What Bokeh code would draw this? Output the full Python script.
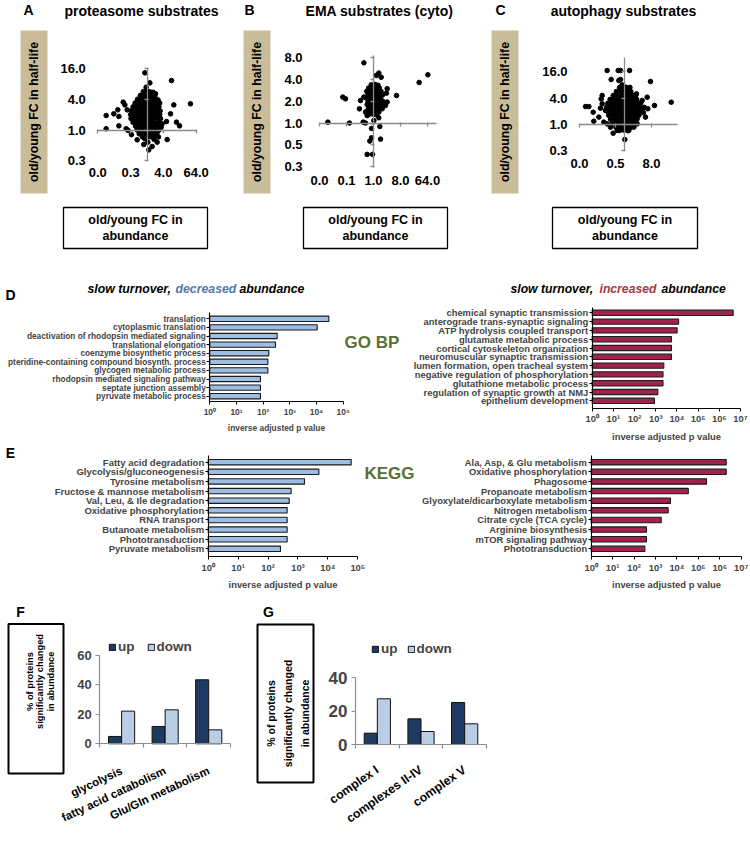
import math
from bokeh.plotting import figure
from bokeh.models import (Range1d, LogScale, LinearAxis, LogAxis, FixedTicker,
                          CustomJSTickFormatter, ColumnDataSource, Legend, LegendItem)
from bokeh.core.properties import value
from bokeh.transform import dodge
from bokeh.embed import file_html
from bokeh.resources import INLINE

FONT = "Liberation Sans"

# ===================== DATA =====================
# --- A: proteasome substrates (log2 old/young fold change) ---
a_log2_fc_abundance = [
    -0.26, 2.99, 0.35, -0.10, 5.30, 3.27, 2.87, 2.38, 3.60, 3.96, -4.98, -4.98, -4.05, -3.43, -3.56,
    -2.90, -2.70, -2.42, -3.43, -2.54, -2.30, -1.20, -0.26, 0.10, 1.24, 2.46, 0.22, 0.63, -0.39, 1.85,
    1.73, 1.04, -1.90, 0.85, 1.40,
    -0.45, -0.05, 0.35, 0.75,
    -0.80, -0.35, 0.10, 0.50, 0.95,
    -1.15, -0.70, -0.25, 0.20, 0.60, 1.05, 1.35,
    -1.45, -1.00, -0.55, -0.10, 0.35, 0.80, 1.20, 1.55,
    -1.70, -1.25, -0.80, -0.35, 0.10, 0.55, 1.00, 1.45,
    -1.90, -1.45, -1.00, -0.55, -0.10, 0.30, 0.75, 1.20, 1.60,
    -2.00, -1.60, -1.15, -0.70, -0.25, 0.20, 0.65, 1.10, 1.55,
    -1.95, -1.50, -1.05, -0.60, -0.15, 0.30, 0.75, 1.20, 1.65,
    -1.70, -1.25, -0.80, -0.35, 0.10, 0.55, 1.00, 1.45,
    -1.40, -0.95, -0.50, -0.05, 0.40, 0.85, 1.30,
    -1.20, -0.75, -0.30, 0.15, 0.60, 1.05, 1.40,
    -0.95, -0.50, -0.05, 0.40, 0.85, 1.20,
    -0.55, -0.10, 0.35, 0.80]
a_log2_fc_halflife = [
    3.71, 3.21, 3.06, 2.78, 1.70, 1.63, 1.05, 0.55, 0.51, 0.27, 0.94, 0.08, 1.05, 0.88, 1.31,
    1.81, 1.63, 1.31, 0.27, 0.08, -0.03, -0.64, -0.57, -0.79, -0.79, -0.62, -1.29, -1.07, -0.94, 0.40,
    0.18, 2.35, -0.30, -0.60, -0.45,
    2.50, 2.55, 2.48, 2.45,
    2.25, 2.28, 2.22, 2.26, 2.20,
    2.00, 2.03, 1.98, 2.02, 1.97, 2.00, 1.95,
    1.75, 1.78, 1.72, 1.76, 1.74, 1.77, 1.72, 1.75,
    1.50, 1.52, 1.48, 1.51, 1.49, 1.52, 1.47, 1.50,
    1.25, 1.23, 1.27, 1.24, 1.26, 1.22, 1.25, 1.28, 1.24,
    1.00, 1.02, 0.98, 1.01, 0.99, 1.03, 0.97, 1.00, 1.02,
    0.75, 0.73, 0.77, 0.74, 0.76, 0.72, 0.75, 0.78, 0.74,
    0.50, 0.52, 0.48, 0.51, 0.49, 0.53, 0.47, 0.50,
    0.25, 0.27, 0.23, 0.26, 0.24, 0.27, 0.22,
    0.00, 0.02, -0.02, 0.01, -0.01, 0.03, -0.03,
    -0.25, -0.23, -0.27, -0.24, -0.26, -0.22,
    -0.45, -0.47, -0.44, -0.46]
a_x_ticks = [-6, -2, 2, 6]
a_x_tick_labels = ["0.0", "0.3", "4.0", "64.0"]
a_y_ticks = [-2, 0, 2, 4]
a_y_tick_labels = ["0.3", "1.0", "4.0", "16.0"]

# --- B: EMA substrates (cyto) ---
b_log2_fc_abundance = [
    -1.07, 6.04, 5.07, 0.59, 0.30, 0.85, 2.56, -3.41, -3.11, -5.07, -2.67, -1.15, -0.89, 0.04, 0.59,
    -0.22, 0.70, -0.22, 0.78, -0.41, -0.70, -0.11, -1.56, -1.44, -1.07, 1.52, 1.44, 1.52, -0.89, -0.70,
    1.33, 0.96, 0.59,
    -0.25, 0.15, 0.50,
    -0.55, -0.15, 0.25, 0.65,
    -0.75, -0.35, 0.05, 0.45, 0.85,
    -0.60, -0.20, 0.20, 0.60, 1.00,
    -0.80, -0.40, 0.00, 0.40, 0.80,
    -0.60, -0.20, 0.20, 0.60, 1.05,
    -0.70, -0.30, 0.10, 0.50, 0.90,
    -0.55, -0.15, 0.25, 0.65,
    -0.70, -0.30, 0.10, 0.45,
    -0.50, -0.10, 0.30]
b_log2_fc_halflife = [
    2.76, 2.21, 1.86, 2.29, 2.18, 2.10, 1.26, 1.19, 1.11, 0.04, 0.00, 0.04, 0.00, 0.11, 0.24,
    -0.25, -0.16, -0.68, -0.74, -0.83, -1.44, -1.44, 0.65, 1.03, 1.19, 0.96, 1.37, 1.57, 0.50, 0.34,
    0.80, 0.65, 0.50,
    1.75, 1.77, 1.73,
    1.60, 1.62, 1.58, 1.61,
    1.45, 1.47, 1.43, 1.46, 1.44,
    1.30, 1.32, 1.28, 1.31, 1.29,
    1.15, 1.17, 1.13, 1.16, 1.14,
    1.00, 1.02, 0.98, 1.01, 0.99,
    0.85, 0.87, 0.83, 0.86, 0.84,
    0.70, 0.72, 0.68, 0.71,
    0.55, 0.57, 0.53, 0.56,
    0.40, 0.42, 0.38]
b_x_ticks = [-6, -3, 0, 3, 6]
b_x_tick_labels = ["0.0", "0.1", "1.0", "8.0", "64.0"]
b_y_ticks = [-2, -1, 0, 1, 2, 3]
b_y_tick_labels = ["0.3", "0.5", "1.0", "2.0", "4.0", "8.0"]

# --- C: autophagy substrates ---
c_log2_fc_abundance = [
    -1.93, -0.70, -0.44, 0.56, -1.48, -0.63, 2.89, 5.19, 3.33, 2.59, 2.33, -4.33, -3.96, -3.48, -3.41,
    -2.48, -2.59, -1.26, 0.04, 1.96, 1.33, -2.48, -2.67, -2.11, -2.85, -2.30, -1.93, -1.56, -0.81, 0.48,
    1.04, 1.41, 2.52, -0.44, -0.26, 0.11, 2.10, 2.20,
    -0.55, -0.15, 0.25, 0.60,
    -0.90, -0.50, -0.10, 0.30, 0.70,
    -1.25, -0.85, -0.40, 0.00, 0.45, 0.85, 1.20,
    -1.60, -1.20, -0.75, -0.35, 0.10, 0.50, 0.90, 1.35,
    -1.85, -1.45, -1.00, -0.60, -0.15, 0.25, 0.70, 1.10, 1.50, 1.80,
    -2.00, -1.60, -1.20, -0.75, -0.35, 0.10, 0.50, 0.90, 1.35, 1.75,
    -1.90, -1.45, -1.05, -0.60, -0.20, 0.25, 0.65, 1.10, 1.50, 1.90,
    -1.75, -1.30, -0.90, -0.45, -0.05, 0.40, 0.80, 1.20, 1.60,
    -1.55, -1.10, -0.70, -0.25, 0.15, 0.55, 1.00, 1.40,
    -1.35, -0.90, -0.50, -0.05, 0.35, 0.80, 1.20,
    -0.95, -0.50, -0.10, 0.30, 0.70,
    -0.55, -0.10, 0.35]
c_log2_fc_halflife = [
    4.09, 4.09, 4.09, 4.09, 3.41, 3.33, 3.26, 1.69, 1.44, 1.19, 0.56, 1.36, 1.36, 0.93, 0.25,
    2.20, 1.94, -0.66, -1.14, 1.82, 2.32, 1.57, 1.24, 1.06, 0.56, 0.18, 0.05, -0.20, -0.45, -0.45,
    -0.20, 0.05, 2.07, 3.41, 3.00, 2.83, 0.90, 1.30,
    2.80, 2.83, 2.78, 2.81,
    2.50, 2.53, 2.48, 2.51, 2.49,
    2.20, 2.23, 2.18, 2.21, 2.19, 2.22, 2.18,
    1.90, 1.93, 1.88, 1.91, 1.89, 1.92, 1.88, 1.91,
    1.60, 1.63, 1.58, 1.61, 1.59, 1.62, 1.58, 1.61, 1.60, 1.62,
    1.30, 1.33, 1.28, 1.31, 1.29, 1.32, 1.28, 1.31, 1.30, 1.32,
    1.00, 1.03, 0.98, 1.01, 0.99, 1.02, 0.98, 1.01, 1.00, 1.02,
    0.70, 0.73, 0.68, 0.71, 0.69, 0.72, 0.68, 0.71, 0.70,
    0.40, 0.43, 0.38, 0.41, 0.39, 0.42, 0.38, 0.41,
    0.10, 0.13, 0.08, 0.11, 0.09, 0.12, 0.08,
    -0.20, -0.17, -0.22, -0.19, -0.21,
    -0.45, -0.42, -0.47]
c_x_ticks = [-5, -1, 3]
c_x_tick_labels = ["0.0", "0.5", "8.0"]
c_y_ticks = [-2, 0, 2, 4]
c_y_tick_labels = ["0.3", "1.0", "4.0", "16.0"]

# --- D: GO BP enrichment ---
d_dec_terms = ["translation", "cytoplasmic translation", "deactivation of rhodopsin mediated signaling",
               "translational elongation", "coenzyme biosynthetic process",
               "pteridine-containing compound biosynth. process", "glycogen metabolic process",
               "rhodopsin mediated signaling pathway", "septate junction assembly",
               "pyruvate metabolic process"]
d_dec_inv_padj = [29000, 10600, 335, 290, 163, 150, 150, 79, 79, 79]
d_inc_terms = ["chemical synaptic transmission", "anterograde trans-synaptic signaling",
               "ATP hydrolysis coupled transport", "glutamate metabolic process",
               "cortical cytoskeleton organization", "neuromuscular synaptic transmission",
               "lumen formation, open tracheal system", "negative regulation of phosphorylation",
               "glutathione metabolic process", "regulation of synaptic growth at NMJ",
               "epithelium development"]
d_inc_inv_padj = [4500000, 12000, 10200, 5500, 5500, 5500, 2400, 2200, 2200, 1250, 870]

# --- E: KEGG enrichment ---
e_dec_terms = ["Fatty acid degradation", "Glycolysis/gluconeogenesis", "Tyrosine metabolism",
               "Fructose & mannose metabolism", "Val, Leu, & Ile degradation",
               "Oxidative phosphorylation", "RNA transport", "Butanoate metabolism",
               "Phototransduction", "Pyruvate metabolism"]
e_dec_inv_padj = [60000, 5000, 1650, 590, 510, 435, 435, 435, 435, 260]
e_inc_terms = ["Ala, Asp, & Glu metabolism", "Oxidative phosphorylation", "Phagosome",
               "Propanoate metabolism", "Glyoxylate/dicarboxylate metabolism", "Nitrogen metabolism",
               "Citrate cycle (TCA cycle)", "Arginine biosynthesis", "mTOR signaling pathway",
               "Phototransduction"]
e_inc_inv_padj = [2000000, 2000000, 240000, 34000, 5000, 3900, 1850, 380, 380, 320]

log_ticks_5 = [1, 10, 100, 1000, 10000, 100000]
log_tick_labels_5 = ["10\u2070", "10\u00b9", "10\u00b2", "10\u00b3", "10\u2074", "10\u2075"]
log_ticks_7 = [1, 10, 100, 1000, 10000, 100000, 1000000, 10000000]
log_tick_labels_7 = ["10\u2070", "10\u00b9", "10\u00b2", "10\u00b3", "10\u2074", "10\u2075", "10\u2076", "10\u2077"]

# --- F / G: % of proteins significantly changed in abundance ---
f_categories = ["glycolysis", "fatty acid catabolism", "Glu/Gln metabolism"]
f_up = [5.0, 11.8, 43.5]
f_down = [22.2, 23.1, 9.5]
f_y_ticks = [0, 20, 40, 60]
f_y_tick_labels = ["0", "20", "40", "60"]
g_categories = ["complex I", "complexes II-IV", "complex V"]
g_up = [6.8, 15.4, 25.2]
g_down = [27.4, 7.8, 12.4]
g_y_ticks = [0, 20, 40]
g_y_tick_labels = ["0", "20", "40"]

# ===================== STYLE =====================
TAN = "#c9bc99"
GRAY = "#8c8c8c"
LIGHT_BLUE = "#9dbde2"
CRIMSON = "#a3214e"
NAVY = "#1f3a60"
PALE = "#b9cde5"
OLIVE = "#5b7035"
DEC_BLUE = "#4f7bb0"
INC_RED = "#a43a47"

# page pixel frame (the plot fills the page)
PX0, PX1, PY0, PY1 = 0, 750, 0, 845

p = figure(width=PX1 - PX0, height=PY1 - PY0, x_range=Range1d(PX0, PX1), y_range=Range1d(PY1, PY0),
           x_axis_type=None, y_axis_type=None, toolbar_location=None, output_backend="svg",
           min_border=0, outline_line_color=None, background_fill_color="white")

xr_d, yr_d, xs_d = {}, {}, {}


def lin_x(d_a, p_a, d_b, p_b):
    k = (d_b - d_a) / (p_b - p_a)
    return Range1d(start=d_a + (PX0 - p_a) * k, end=d_a + (PX1 - p_a) * k)


def lin_y(d_a, p_a, d_b, p_b):
    k = (d_b - d_a) / (p_b - p_a)
    return Range1d(start=d_a + (PY1 - p_a) * k, end=d_a + (PY0 - p_a) * k)


def log_x(d_a, p_a, d_b, p_b):
    la, lb = math.log10(d_a), math.log10(d_b)
    k = (lb - la) / (p_b - p_a)
    return Range1d(start=10 ** (la + (PX0 - p_a) * k), end=10 ** (la + (PX1 - p_a) * k))


def fmt(ticks, labels):
    return CustomJSTickFormatter(args=dict(tv=list(ticks), lb=list(labels)), code="""
        for (let i = 0; i < tv.length; i++) {
            if (Math.abs(tv[i] - tick) <= 1e-6 * Math.max(1, Math.abs(tv[i]))) { return lb[i]; }
        }
        return "";""")


def line_axis(cls, side, xname, yname, loc, bounds, ticks, color, width, tick_in, tick_out):
    ax = cls(x_range_name=xname, y_range_name=yname, fixed_location=loc, bounds=bounds,
             ticker=FixedTicker(ticks=list(ticks), minor_ticks=[]),
             formatter=fmt(ticks, [""] * len(ticks)),
             axis_line_color=color, axis_line_width=width,
             major_tick_line_color=color, major_tick_line_width=width,
             major_tick_in=tick_in, major_tick_out=tick_out,
             minor_tick_line_color=None, major_label_text_color=None,
             major_label_text_font_size="1px", major_label_standoff=0)
    p.add_layout(ax, side)
    return ax


def label_axis(cls, side, xname, yname, loc, ticks, labels, size, standoff, orientation="horizontal",
               style="bold"):
    ax = cls(x_range_name=xname, y_range_name=yname, fixed_location=loc,
             ticker=FixedTicker(ticks=list(ticks), minor_ticks=[]), formatter=fmt(ticks, labels),
             axis_line_color=None, major_tick_line_color=None, minor_tick_line_color=None,
             major_tick_in=0, major_tick_out=0, major_label_standoff=int(standoff),
             major_label_text_font=FONT, major_label_text_font_style=style,
             major_label_text_font_size=f"{size}px", major_label_text_color="black",
             major_label_orientation=orientation)
    p.add_layout(ax, side)
    return ax


def txt(x, y, s, size, color="black", style="bold", align="center", baseline="middle", angle=0.0,
        line_height=1.2):
    p.text(x=[x], y=[y], text=[s], text_font=value(FONT), text_font_size=f"{size}px",
           text_font_style=style, text_color=color, text_align=align, text_baseline=baseline,
           angle=angle, text_line_height=line_height)


def box(l, r, t, b, fill, line, lw):
    p.quad(left=[l], right=[r], top=[t], bottom=[b], fill_color=fill, line_color=line, line_width=lw)


# ===================== A, B, C scatter panels =====================
def scatter_panel(key, xs, ys, xmap, ymap, xbounds, ybounds, xticks, xlabels, yticks, ylabels,
                  frame_left, ylab_standoff, frame_bottom, xlab_standoff):
    xn, yn = key + "_x", key + "_y"
    xr_d[xn] = lin_x(*xmap)
    yr_d[yn] = lin_y(*ymap)
    line_axis(LinearAxis, "below", xn, yn, 0, xbounds, xticks, GRAY, 1.3, 1, 3)
    line_axis(LinearAxis, "left", xn, yn, 0, ybounds, yticks, GRAY, 1.3, 1, 3)
    p.scatter(x=xs, y=ys, size=4.6, color="black", x_range_name=xn, y_range_name=yn)
    label_axis(LinearAxis, "left", "default", yn, frame_left, yticks, ylabels, 13, ylab_standoff)
    label_axis(LinearAxis, "below", xn, "default", frame_bottom, xticks, xlabels, 13, xlab_standoff)


scatter_panel("a", a_log2_fc_abundance, a_log2_fc_halflife, (0, 146.5, 6, 195.7), (0, 129.5, 4, 67.9),
              (-6, 6), (-1.98, 4.06), a_x_ticks, a_x_tick_labels, a_y_ticks, a_y_tick_labels,
              97.3, 12, 160, 7)
scatter_panel("b", b_log2_fc_abundance, b_log2_fc_halflife, (0, 373, 6, 427), (0, 122.5, 3, 57.1),
              (-6, 7), (-2.04, 3.08), b_x_ticks, b_x_tick_labels, b_y_ticks, b_y_tick_labels,
              318, 16, 167, 8)
scatter_panel("c", c_log2_fc_abundance, c_log2_fc_halflife, (0, 624, 3, 651), (0, 124, 4, 71.2),
              (-5, 5.9), (-1.97, 5.1), c_x_ticks, c_x_tick_labels, c_y_ticks, c_y_tick_labels,
              579, 12, 150, 8)

for (letter, lx, tx, title, tan_l, lab_l, lab_r) in [
        ("A", 28, 141, "proteasome substrates", 20, 63, 207),
        ("B", 249, 379, "EMA substrates (cyto)", 243, 303, 447),
        ("C", 500, 623, "autophagy substrates", 491, 552, 697)]:
    txt(lx, 9, letter, 14)
    txt(tx, 10, title, 14)
    box(tan_l, tan_l + 27, 30, 193, TAN, None, 0)
    txt(tan_l + 13.5, 111.5, "old/young FC in half-life", 12.3, angle=math.pi / 2)
    box(lab_l, lab_r, 207, 248, "white", "black", 1.3)
    txt((lab_l + lab_r) / 2, 227.5, "old/young FC in\nabundance", 12.5, line_height=1.2)


# ===================== D, E bar panels =====================
def bar_panel(key, terms, vals, color, x0px, x1px, ticks, tlabels, idx0_px, step, top_px, xaxis_px,
              lab_size, tick_size, tick_standoff, axlab_standoff, bar_h):
    xn, yn = key + "_x", key + "_y"
    xr_d[xn] = log_x(1, x0px, ticks[-1], x1px)
    xs_d[xn] = LogScale()
    yr_d[yn] = lin_y(0, idx0_px, 1, idx0_px + step)
    idx = list(range(len(terms)))
    src = ColumnDataSource(dict(idx=idx, val=vals, term=terms))
    p.hbar(y="idx", left=1, right="val", height=bar_h, source=src, fill_color=color,
           line_color="#1b1b1b", line_width=1.1, x_range_name=xn, y_range_name=yn)
    yax = LinearAxis(x_range_name="default", y_range_name=yn, fixed_location=x0px,
                     bounds=((top_px - idx0_px) / step, (xaxis_px - idx0_px) / step),
                     ticker=FixedTicker(ticks=idx, minor_ticks=[]), formatter=fmt(idx, terms),
                     axis_line_color="black", axis_line_width=1.1, major_tick_line_color="black",
                     major_tick_line_width=1, major_tick_in=0, major_tick_out=3,
                     minor_tick_line_color=None, major_label_standoff=1,
                     major_label_text_font=FONT, major_label_text_font_style="bold",
                     major_label_text_font_size=f"{lab_size}px")
    p.add_layout(yax, "left")
    xax = LogAxis(x_range_name=xn, y_range_name="default", fixed_location=xaxis_px,
                  bounds=(ticks[0], ticks[-1]), ticker=FixedTicker(ticks=ticks, minor_ticks=[]),
                  formatter=fmt(ticks, tlabels),
                  axis_line_color="black", axis_line_width=1.1, major_tick_line_color="black",
                  major_tick_line_width=1, major_tick_in=0, major_tick_out=3,
                  minor_tick_line_color=None, major_label_standoff=int(tick_standoff),
                  major_label_text_font=FONT, major_label_text_font_style="bold",
                  major_label_text_font_size=f"{tick_size}px",
                  axis_label="inverse adjusted p value", axis_label_standoff=int(axlab_standoff),
                  axis_label_text_font=FONT, axis_label_text_font_style="bold",
                  axis_label_text_font_size=f"{tick_size}px")
    p.add_layout(xax, "below")


bar_panel("dd", d_dec_terms, d_dec_inv_padj, LIGHT_BLUE, 209.3, 342.7, log_ticks_5, log_tick_labels_5,
          318.3, 8.6, 312.3, 401, 8.3, 8.4, 2, 3, 0.62)
bar_panel("di", d_inc_terms, d_inc_inv_padj, CRIMSON, 591.7, 740, log_ticks_7, log_tick_labels_7,
          312.3, 8.8, 306.7, 407.7, 9.4, 9.4, 2, 3, 0.6)
bar_panel("ed", e_dec_terms, e_dec_inv_padj, LIGHT_BLUE, 207.7, 357.3, log_ticks_5, log_tick_labels_5,
          461.7, 9.63, 455, 556, 9.5, 9.4, 2, 3, 0.56)
bar_panel("ei", e_inc_terms, e_inc_inv_padj, CRIMSON, 590.7, 740.7, log_ticks_7, log_tick_labels_7,
          461.7, 9.63, 455, 556, 9.4, 9.4, 2, 3, 0.56)

txt(10, 294, "D", 14)
txt(10, 452, "E", 14)
txt(87, 288, "slow turnover,", 12.3, style="bold italic", align="left")
txt(175, 288, "decreased", 12.3, color=DEC_BLUE, style="bold italic", align="left")
txt(239, 288, "abundance", 12.3, style="bold italic", align="left")
txt(510, 288, "slow turnover,", 12.2, style="bold italic", align="left")
txt(599, 288, "increased", 12.2, color=INC_RED, style="bold italic", align="left")
txt(661, 288, "abundance", 12.2, style="bold italic", align="left")
txt(371.5, 342, "GO BP", 17, color=OLIVE)
txt(389, 473, "KEGG", 17, color=OLIVE)


# ===================== F, G grouped bars =====================
def group_panel(key, cats, up, down, yticks, ylabels, x0px, x1px, y0px, ytop_px, ymax, angle,
                cat_size, tick_size, tick_standoff, cat_standoff, leg_loc, leg_spacing):
    xn, yn = key + "_x", key + "_y"
    xr_d[xn] = lin_x(-0.5, x0px, len(cats) - 0.5, x1px)
    yr_d[yn] = lin_y(0, y0px, ymax, ytop_px)
    src = ColumnDataSource(dict(x=list(range(len(cats))), up=up, down=down))
    r_up = p.vbar(x=dodge("x", -0.15), top="up", bottom=0, width=0.3, source=src, fill_color=NAVY,
                  line_color="#111111", line_width=1, x_range_name=xn, y_range_name=yn)
    r_dn = p.vbar(x=dodge("x", 0.15), top="down", bottom=0, width=0.3, source=src, fill_color=PALE,
                  line_color="#111111", line_width=1, x_range_name=xn, y_range_name=yn)
    dividers = [i - 0.5 for i in range(len(cats) + 1)]
    line_axis(LinearAxis, "below", xn, "default", y0px, (-0.5, len(cats) - 0.5), dividers, GRAY, 1.2, 0, 4)
    label_axis(LinearAxis, "below", xn, "default", y0px, list(range(len(cats))), cats, cat_size,
               cat_standoff, orientation=angle)
    yax = LinearAxis(x_range_name="default", y_range_name=yn, fixed_location=x0px, bounds=(0, ymax),
                     ticker=FixedTicker(ticks=yticks, minor_ticks=[]), formatter=fmt(yticks, ylabels),
                     axis_line_color=GRAY, axis_line_width=1.2, major_tick_line_color=GRAY,
                     major_tick_line_width=1.2, major_tick_in=0, major_tick_out=4,
                     minor_tick_line_color=None, major_label_standoff=int(tick_standoff),
                     major_label_text_font=FONT, major_label_text_font_style="bold",
                     major_label_text_font_size=f"{tick_size}px")
    p.add_layout(yax, "left")
    lg = Legend(items=[LegendItem(label="up", renderers=[r_up]), LegendItem(label="down", renderers=[r_dn])],
                orientation="horizontal", location=leg_loc, background_fill_alpha=0,
                border_line_color=None, glyph_width=8, glyph_height=8, label_standoff=2,
                spacing=leg_spacing, padding=0, margin=0, label_height=12, label_width=10,
                label_text_font=FONT, label_text_font_style="bold", label_text_font_size="13.5px")
    p.add_layout(lg)


group_panel("f", f_categories, f_up, f_down, f_y_ticks, f_y_tick_labels, 99.3, 230, 743.3, 655, 60,
            0.44, 11.5, 13, 4, 26, (108, 191), 12)
group_panel("g", g_categories, g_up, g_down, g_y_ticks, g_y_tick_labels, 355, 486, 744, 677.3, 40,
            0.61, 12.3, 17, 4, 24, (371, 189), 9)

txt(20, 611, "F", 14)
txt(268, 611, "G", 14)
box(8, 63, 623.5, 773, None, "black", 2)
txt(40, 681, "% of proteins\nsignificantly changed\nin abundance", 9.3, angle=math.pi / 2, line_height=1.02)
box(257, 313, 624, 782, None, "black", 2)
txt(287.5, 713, "% of proteins\nsignificantly changed\nin abundance", 10.5, angle=math.pi / 2,
    line_height=1.4)

p.extra_x_ranges = xr_d
p.extra_y_ranges = yr_d
p.extra_x_scales = xs_d

open("out.html", "w").write(file_html(p, INLINE))
